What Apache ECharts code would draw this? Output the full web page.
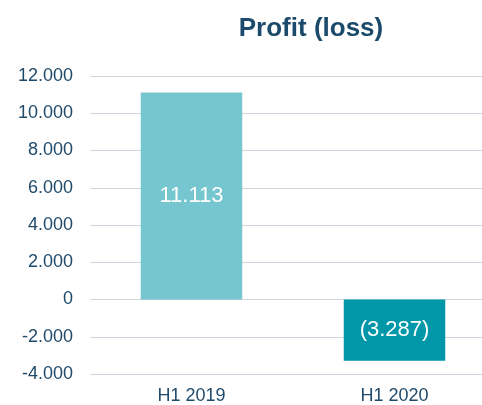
<!DOCTYPE html>
<html>
<head>
<meta charset="UTF-8"/>
<script src="https://cdn.jsdelivr.net/npm/echarts@6/dist/echarts.min.js"></script>
<style>
  html, body { margin: 0; padding: 0; background: #fff; }
  #chart { width: 482px; height: 405px; }
</style>
</head>
<body>
<div id="chart"></div>
<script>
  // data
  const categories = ['H1 2019', 'H1 2020'];
  const profit = [11113, -3287];
  const barColors = ['#76c6cf', '#0097a9'];
  const yTicks = { min: -4000, max: 12000, step: 2000 };

  // 11113 -> "11.113", -3287 -> "(3.287)"
  function fmt(v, paren) {
    if (v === 0) return '0';
    const s = Math.abs(v).toFixed(0).replace(/\B(?=(\d{3})+(?!\d))/g, '.');
    if (v < 0) return paren ? '(' + s + ')' : '-' + s;
    return s;
  }

  const chart = echarts.init(document.getElementById('chart'));
  chart.setOption({
    animation: false,
    title: {
      text: 'Profit (loss)',
      left: 306, top: 11, textAlign: 'center',
      textStyle: { fontFamily: 'Liberation Sans', fontSize: 26, fontWeight: 'bold', color: '#1b4a6b' }
    },
    grid: { left: 90, top: 76, right: -14, bottom: 31, outerBoundsMode: 'none' },
    xAxis: {
      type: 'category',
      data: categories,
      axisLine: { show: false, onZero: false },
      axisTick: { show: false },
      axisLabel: { fontFamily: 'Liberation Sans', fontSize: 18, color: '#1f4a6a', margin: 13 }
    },
    yAxis: {
      type: 'value',
      min: yTicks.min, max: yTicks.max, interval: yTicks.step,
      axisLine: { show: false },
      axisTick: { show: false },
      splitLine: { lineStyle: { color: '#cdd6de', width: 1 } },
      axisLabel: {
        fontFamily: 'Liberation Sans', fontSize: 18, color: '#1f4a6a', margin: 17,
        formatter: v => v === 0 ? '0' : (v < 0 ? '-' : '') + Math.abs(v / 1000).toFixed(3)
      }
    },
    series: [{
      type: 'bar',
      barWidth: '50%',
      data: profit.map((v, i) => ({ value: v, itemStyle: { color: barColors[i] } })),
      label: {
        show: true, position: 'inside',
        fontFamily: 'Liberation Sans', fontSize: 22, color: '#fff',
        formatter: p => fmt(p.value, true)
      }
    }]
  });
</script>
</body>
</html>
